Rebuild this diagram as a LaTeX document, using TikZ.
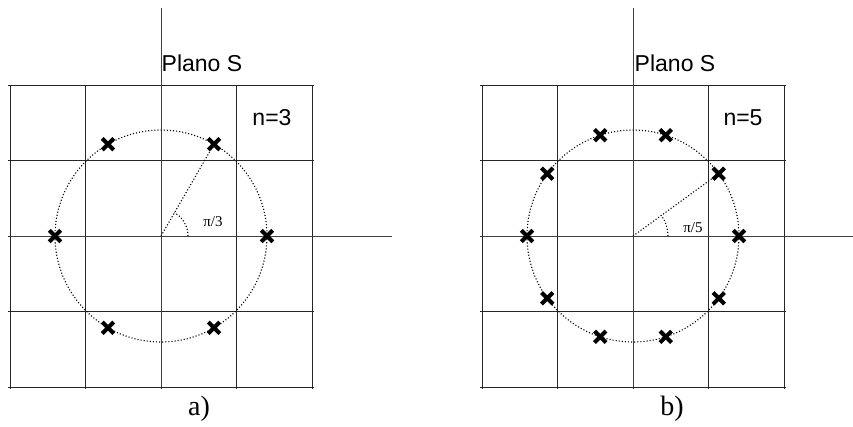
\documentclass[tikz,border=0pt]{standalone}
\usepackage{fontspec}
\setmainfont{Liberation Serif}
\setsansfont{Liberation Sans}
\usetikzlibrary{shapes.misc}
\begin{document}
\begin{tikzpicture}[x=1pt,y=-1pt,
  gridline/.style={line width=0.8pt, black!85},
  axisline/.style={line width=0.8pt, black!75},
  dotcircle/.style={line width=1.1pt, dash pattern=on 1.1pt off 2pt},
  pole/.style={cross out, draw, line width=4pt, minimum size=7.5pt, inner sep=0pt},
  sanslabel/.style={font=\sffamily\fontsize{23}{26}\selectfont, inner sep=0pt},
  anglelabel/.style={font=\fontsize{15}{17}\selectfont, inner sep=0pt},
  captionlabel/.style={font=\fontsize{28}{30}\selectfont, inner sep=0pt}]
\useasboundingbox (0,0) rectangle (853,426);
% ---------- panel a ----------
\foreach \x in {10,85.5,161,236.5,312} \draw[gridline] (\x,85) -- (\x,389);
\foreach \y in {85,160.5,236,311.5,387} \draw[gridline] (8,\y) -- (314,\y);
\draw[axisline] (161,8) -- (161,387);
\draw[axisline] (10,236) -- (392,236);
\coordinate (oa) at (161,236);
\draw[dotcircle] (oa) circle (106);
\begin{scope}[shift={(oa)}]
  \foreach \a/\i in {0/1,-60/2,-120/3,180/4,120/5,60/6}
    \node[pole] (pa\i) at (\a:106) {};
\end{scope}
\draw[dotcircle] (oa) -- (pa2.center);
\draw[dotcircle] (oa) ++(27,0) arc (0:-60:27);
\node[sanslabel] (plana) at (202,63) {Plano S};
\node[sanslabel] (na) at (272,118) {n=3};
\node[anglelabel] (anga) at (213,222) {π/3};
\node[captionlabel] (capa) at (199,409) {a)};
% ---------- panel b ----------
\begin{scope}[xshift=472pt]
\foreach \x in {10,85.5,161,236.5,312} \draw[gridline] (\x,85) -- (\x,389);
\foreach \y in {85,160.5,236,311.5,387} \draw[gridline] (8,\y) -- (314,\y);
\draw[axisline] (161,8) -- (161,387);
\draw[axisline] (10,236) -- (392,236);
\coordinate (ob) at (161,236);
\draw[dotcircle] (ob) circle (106);
\begin{scope}[shift={(ob)}]
  \foreach \a/\i in {0/1,-36/2,-72/3,-108/4,-144/5,180/6,144/7,108/8,72/9,36/10}
    \node[pole] (pb\i) at (\a:106) {};
\end{scope}
\draw[dotcircle] (ob) -- (pb2.center);
\draw[dotcircle] (ob) ++(35,0) arc (0:-36:35);
\node[sanslabel] (planb) at (203,63) {Plano S};
\node[sanslabel] (nb) at (271,118) {n=5};
\node[anglelabel] (angb) at (221,228) {π/5};
\node[captionlabel] (capb) at (200,409) {b)};
\end{scope}
\end{tikzpicture}
\end{document}
